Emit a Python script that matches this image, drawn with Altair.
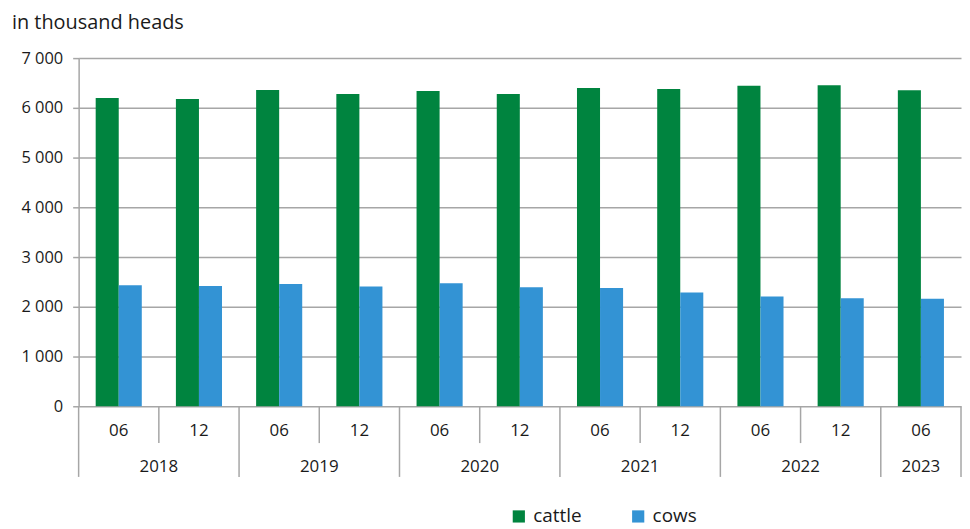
import altair as alt
import pandas as pd

periods = ["2018-06", "2018-12", "2019-06", "2019-12", "2020-06", "2020-12",
           "2021-06", "2021-12", "2022-06", "2022-12", "2023-06"]
months = ["06", "12", "06", "12", "06", "12", "06", "12", "06", "12", "06"]
years = ["2018", "2018", "2019", "2019", "2020", "2020", "2021", "2021", "2022", "2022", "2023"]
cattle = [6200, 6180, 6360, 6280, 6340, 6280, 6400, 6380, 6446, 6454, 6354]
cows = [2433, 2420, 2460, 2407, 2473, 2393, 2380, 2287, 2207, 2173, 2160]
series = ["cattle", "cows"]
colors = ["#00843F", "#3393D4"]
y_ticks = [0, 1000, 2000, 3000, 4000, 5000, 6000, 7000]

rows = []
for i, p in enumerate(periods):
    rows.append({"period": p, "series": "cattle", "value": cattle[i]})
    rows.append({"period": p, "series": "cows", "value": cows[i]})
df = pd.DataFrame(rows)
cats = pd.DataFrame({"period": periods, "month": months, "year": years})

FONT = "Open Sans"
GRAY = "#A6A6A6"
W, H = 887, 350

xscale = alt.Scale(domain=periods, paddingInner=0, paddingOuter=0)


def X(bp=None):
    if bp is None:
        return alt.X("period:N", scale=xscale, axis=None)
    return alt.X("period:N", scale=xscale, axis=None, bandPosition=bp)


bars = alt.Chart(df).mark_bar().encode(
    x=X(),
    xOffset=alt.XOffset("series:N", scale=alt.Scale(domain=series, paddingInner=0, paddingOuter=0.74)),
    y=alt.Y("value:Q", title=None,
            scale=alt.Scale(domain=[0, 7000], nice=False),
            axis=alt.Axis(values=y_ticks, grid=True, gridColor=GRAY, gridWidth=1.5,
                          domainColor=GRAY, domainWidth=1.5, tickColor=GRAY, tickWidth=1.5,
                          tickSize=6, labelPadding=10, labelFontSize=16.5, labelColor="#1a1a1a",
                          labelFont=FONT,
                          labelExpr="replace(format(datum.value, ','), ',', ' ')")),
    color=alt.Color("series:N", scale=alt.Scale(domain=series, range=colors),
                    legend=alt.Legend(title=None, orient="none", direction="horizontal",
                                      legendX=433, legendY=451, symbolType="square",
                                      symbolSize=150, symbolStrokeWidth=0, labelFontSize=19,
                                      labelFont=FONT, labelColor="#1a1a1a", columnPadding=47,
                                      labelOffset=5, padding=0)),
)

base = alt.Chart(cats)

sep_long = base.transform_filter("datum.month == '06'").mark_rule(
    color=GRAY, strokeWidth=1.5).encode(x=X(0), y=alt.value(H), y2=alt.value(H + 71))
sep_short = base.transform_filter("datum.month == '12'").mark_rule(
    color=GRAY, strokeWidth=1.5).encode(x=X(0), y=alt.value(H), y2=alt.value(H + 37))
sep_end = base.transform_filter(alt.datum.period == periods[-1]).mark_rule(
    color=GRAY, strokeWidth=1.5).encode(x=X(1), y=alt.value(H), y2=alt.value(H + 71))

month_txt = base.mark_text(fontSize=17, font=FONT, color="#1a1a1a", baseline="middle").encode(
    x=X(), y=alt.value(H + 25), text="month:N")
year_txt_a = base.transform_filter("datum.month == '12'").mark_text(
    fontSize=17, font=FONT, color="#1a1a1a", baseline="middle").encode(
    x=X(0), y=alt.value(H + 61), text="year:N")
year_txt_b = base.transform_filter(alt.datum.period == periods[-1]).mark_text(
    fontSize=17, font=FONT, color="#1a1a1a", baseline="middle").encode(
    x=X(), y=alt.value(H + 61), text="year:N")

chart = alt.layer(bars, sep_long, sep_short, sep_end, month_txt, year_txt_a, year_txt_b).properties(
    width=W, height=H,
    title=alt.TitleParams("in thousand heads", anchor="start", frame="group", dx=-67,
                          offset=17, fontSize=20, fontWeight="normal", font=FONT,
                          color="#1a1a1a"),
    autosize=alt.AutoSizeParams(type="none"),
    padding={"left": 71, "top": 49, "right": 1, "bottom": 122},
).configure_view(stroke=None)

chart.save("out.html", embed_options={"renderer": "svg", "actions": False})
